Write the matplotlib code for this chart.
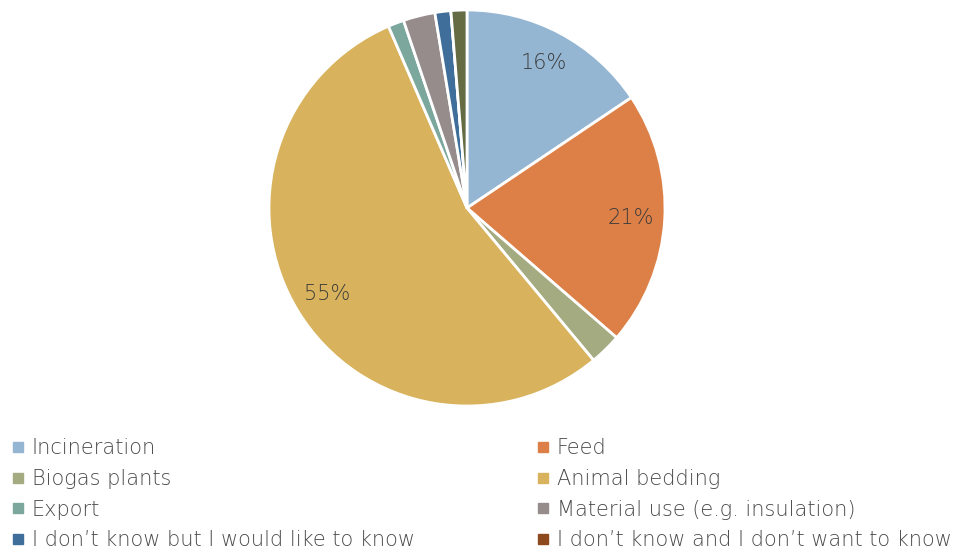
import matplotlib.pyplot as plt
from matplotlib.lines import Line2D

# Datos (recuentos, n = 77)
categories = ['Incineration', 'Feed', 'Biogas plants', 'Animal bedding', 'Export',
              'Material use (e.g. insulation)', 'I don\u2019t know but I would like to know',
              'I don\u2019t know and I don\u2019t want to know', 'Other']
counts = [12, 16, 2, 42, 1, 2, 1, 0, 1]
colors = ['#94B6D2', '#DD8047', '#A5AB81', '#D8B25C', '#7BA79D',
          '#968C8C', '#3E6E99', '#8E4A1E', '#656B43']

plt.rcParams['font.family'] = ['DejaVu Sans']

fig = plt.figure(figsize=(9.62, 5.5), dpi=100)
ax = fig.add_axes([267 / 962, 142 / 550, 400 / 962, 400 / 550])


def etiqueta(pct):
    return f'{pct:.0f}%' if pct > 10 else ''


wedges, texts, autotexts = ax.pie(
    counts, colors=colors, startangle=90, counterclock=False, radius=1,
    autopct=etiqueta, pctdistance=0.83,
    wedgeprops=dict(edgecolor='white', linewidth=2),
    textprops=dict(color='#3a3a3a', fontsize=15, fontweight='light'))
ax.set_xlim(-1.01, 1.01)
ax.set_ylim(-1.01, 1.01)
ax.set_aspect('equal')
ax.axis('off')

# Leyenda en dos columnas (solo las 8 primeras categorías son visibles)
handles = [Line2D([], [], marker='s', linestyle='none', markersize=7,
                  markerfacecolor=c, markeredgecolor=c) for c in colors[:8]]
legend_kw = dict(frameon=False, prop=dict(size=15, weight='light'), labelcolor='#4a4a4a',
                 handlelength=0.6, handletextpad=0.35, labelspacing=0.52,
                 borderpad=0, borderaxespad=0, loc='upper left')
leg1 = fig.legend(handles[0::2], categories[0:8:2],
                  bbox_to_anchor=(12 / 962, 1 - 438 / 550), **legend_kw)
leg2 = fig.legend(handles[1::2], categories[1:8:2],
                  bbox_to_anchor=(537 / 962, 1 - 438 / 550), **legend_kw)

fig.savefig('out.png', dpi=100)
